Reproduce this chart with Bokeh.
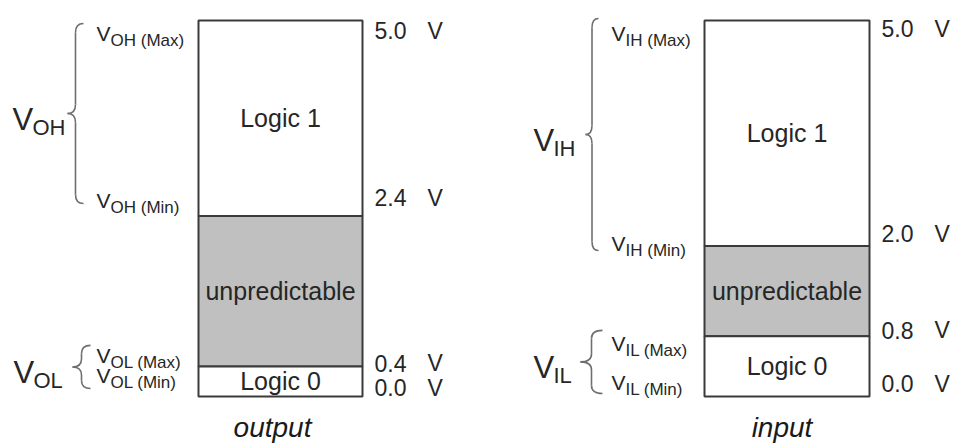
from bokeh.plotting import figure
from bokeh.models import ColumnDataSource, Range1d
from bokeh.core.properties import value
from bokeh.embed import file_html
from bokeh.resources import INLINE

# ---------------- data ----------------
columns = ["output", "input"]
v_top = [5.0, 5.0]            # V_OH(Max), V_IH(Max)
v_high_min = [2.4, 2.0]       # V_OH(Min), V_IH(Min)
v_low_max = [0.4, 0.8]        # V_OL(Max), V_IL(Max)
v_bottom = [0.0, 0.0]         # V_OL(Min), V_IL(Min)
high_sub = ["OH", "IH"]
low_sub = ["OL", "IL"]
region_names = ["Logic 1", "unpredictable", "Logic 0"]
bound_names = ["(Max)", "(Min)", "(Max)", "(Min)"]
unit = "V"

# ---------------- layout / style ----------------
W, H = 958, 445
PXV = 75.2                       # pixels per volt
Y_HI = 5 + 20 / PXV
Y_LO = Y_HI - H / PXV
FONT = value("Liberation Sans")
TXT = "#262626"
box_left = [190, 696]
box_right = [354, 861]
small_x = [88, 603]
caption_dx = [-8, -5]
right_off = [[10, -18.5, -3, -9], [8, -12.6, -6, -13]]
small_off = [[13, -15.5, -11, -21], [13, -2.6, 7, -14]]
# braces: (x tip, x ends, pad top px, pad bottom px, radius px, big-label x)
brace_high = [(59, 75, 3, -12.5, 9, 4), (577, 590, -2, 4.4, 9, 525)]
brace_low = [(64, 82, -21, -8, 8, 5), (572, 594, -6, -3, 8, 525)]

p = figure(width=W, height=H, x_range=Range1d(-8, W - 8), y_range=Range1d(Y_LO, Y_HI),
           output_backend="svg", toolbar_location=None, min_border=0,
           x_axis_location=None, y_axis_location=None)
p.grid.visible = False
p.outline_line_color = None
p.background_fill_color = "white"
p.border_fill_color = "white"

# boxes
qs = dict(left=[], right=[], bottom=[], top=[], fill=[])
rt = dict(x=[], y=[], text=[], size=[])
for i in range(2):
    edges = [v_top[i], v_high_min[i], v_low_max[i], v_bottom[i]]
    fills = ["white", "#c0c0c0", "white"]
    for k in range(3):
        qs["left"].append(box_left[i]); qs["right"].append(box_right[i])
        qs["top"].append(edges[k]); qs["bottom"].append(edges[k + 1])
        qs["fill"].append(fills[k])
        rt["x"].append((box_left[i] + box_right[i]) / 2)
        rt["y"].append((edges[k] + edges[k + 1]) / 2)
        rt["text"].append(region_names[k])
        rt["size"].append("25px")
p.quad(left="left", right="right", bottom="bottom", top="top", fill_color="fill",
       line_color="#3a3a3a", line_width=2, source=ColumnDataSource(qs))
p.text(x="x", y="y", text="text", text_font_size="size", source=ColumnDataSource(rt),
       text_font=FONT, text_color=TXT, text_align="center", text_baseline="middle")

# right-hand voltage labels and left-hand small labels
rl = dict(x=[], xv=[], y=[], text=[], off=[])
sl = dict(x=[], xs=[], y=[], sub=[], off=[], offs=[])
for i in range(2):
    edges = [v_top[i], v_high_min[i], v_low_max[i], v_bottom[i]]
    subs = [high_sub[i], high_sub[i], low_sub[i], low_sub[i]]
    for k in range(4):
        rl["x"].append(box_right[i] + 12); rl["xv"].append(box_right[i] + 65)
        rl["y"].append(edges[k]); rl["text"].append(f"{edges[k]:.1f}")
        rl["off"].append(right_off[i][k])
        sl["x"].append(small_x[i]); sl["xs"].append(small_x[i] + 14)
        sl["y"].append(edges[k]); sl["sub"].append(f"{subs[k]} {bound_names[k]}")
        sl["off"].append(small_off[i][k]); sl["offs"].append(small_off[i][k] + 7)
rsrc = ColumnDataSource(rl)
p.text(x="x", y="y", text="text", y_offset="off", source=rsrc, text_font=FONT,
       text_font_size="23px", text_color=TXT, text_align="left", text_baseline="middle")
p.text(x="xv", y="y", text=value(unit), y_offset="off", source=rsrc, text_font=FONT,
       text_font_size="23px", text_color=TXT, text_align="left", text_baseline="middle")
ssrc = ColumnDataSource(sl)
p.text(x="x", y="y", text=value("V"), y_offset="off", source=ssrc, text_font=FONT,
       text_font_size="21px", text_color=TXT, text_align="left", text_baseline="alphabetic")
p.text(x="xs", y="y", text="sub", y_offset="offs", source=ssrc, text_font=FONT,
       text_font_size="17px", text_color=TXT, text_align="left", text_baseline="alphabetic")

# braces + big labels
qd = dict(x0=[], y0=[], x1=[], y1=[], cx=[], cy=[])
sg = dict(x0=[], y0=[], x1=[], y1=[])
bl = dict(x=[], xs=[], y=[], sub=[])
for i in range(2):
    for (xt, xe, pt, pb, rpx, bx), vt, vb, name in (
            (brace_high[i], v_top[i], v_high_min[i], high_sub[i]),
            (brace_low[i], v_low_max[i], v_bottom[i], low_sub[i])):
        yt = vt - pt / PXV
        yb = vb - pb / PXV
        ym = (yt + yb) / 2
        xs = (xt + xe) / 2
        r = rpx / PXV
        for a, b, c in (((xe, yt), (xs, yt - r), (xs, yt)),
                        ((xs, ym + r), (xt, ym), (xs, ym)),
                        ((xt, ym), (xs, ym - r), (xs, ym)),
                        ((xs, yb + r), (xe, yb), (xs, yb))):
            qd["x0"].append(a[0]); qd["y0"].append(a[1])
            qd["x1"].append(b[0]); qd["y1"].append(b[1])
            qd["cx"].append(c[0]); qd["cy"].append(c[1])
        for a, b in (((xs, yt - r), (xs, ym + r)), ((xs, ym - r), (xs, yb + r))):
            sg["x0"].append(a[0]); sg["y0"].append(a[1])
            sg["x1"].append(b[0]); sg["y1"].append(b[1])
        bl["x"].append(bx); bl["xs"].append(bx + 20); bl["y"].append(ym); bl["sub"].append(name)
p.quadratic(x0="x0", y0="y0", x1="x1", y1="y1", cx="cx", cy="cy",
            source=ColumnDataSource(qd), line_color="#6e6e6e", line_width=1.6)
p.segment(x0="x0", y0="y0", x1="x1", y1="y1", source=ColumnDataSource(sg),
          line_color="#6e6e6e", line_width=1.6)
bsrc = ColumnDataSource(bl)
p.text(x="x", y="y", text=value("V"), y_offset=6, source=bsrc, text_font=FONT,
       text_font_size="31px", text_color=TXT, text_align="left", text_baseline="alphabetic")
p.text(x="xs", y="y", text="sub", y_offset=14, source=bsrc, text_font=FONT,
       text_font_size="22px", text_color=TXT, text_align="left", text_baseline="alphabetic")

# column captions
cap = dict(x=[(box_left[i] + box_right[i]) / 2 + caption_dx[i] for i in range(2)],
           y=list(v_bottom), text=list(columns))
p.text(x="x", y="y", text="text", y_offset=31, source=ColumnDataSource(cap),
       text_font=FONT, text_font_size="28px", text_font_style="italic",
       text_color="#1a1a1a", text_align="center", text_baseline="alphabetic")

open("out.html", "w").write(file_html(p, INLINE))
